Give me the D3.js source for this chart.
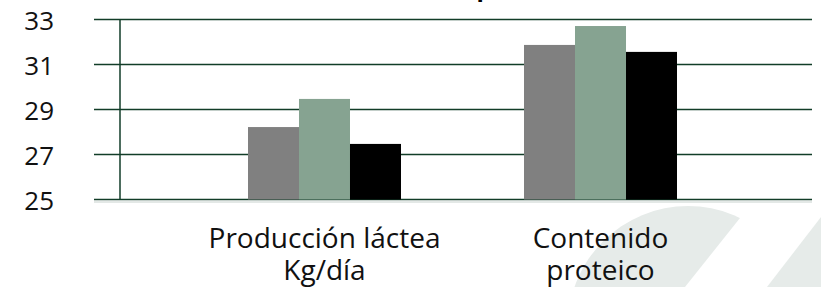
<!DOCTYPE html>
<html>
<head>
<meta charset="utf-8">
<script src="https://cdn.jsdelivr.net/npm/d3@7"></script>
<style>
    body { margin: 0; background: #fff; }
    svg { display: block; font-family: "Open Sans", sans-serif; }
</style>
</head>
<body>
<div id="chart"></div>
<script>
const categories = [["Producción láctea", "Kg/día"], ["Contenido", "proteico"]]
const series = ["A", "B", "C"]
const valuesA = [28.22, 31.87]
const valuesB = [29.47, 32.71]
const valuesC = [27.47, 31.56]
const yTicks = [25, 27, 29, 31, 33]

const width = 821
const height = 287
const colors = ["#808080", "#86a391", "#000000"]
const gridColor = "#123d28"

const data = categories.map((c, i) => ({
    key: c.join(" "),
    label: c,
    values: [valuesA[i], valuesB[i], valuesC[i]]
}))

const svg = d3.select("#chart")
    .append("svg")
    .attr("width", width)
    .attr("height", height)

// background decoration in the lower right corner
svg.append("clipPath")
    .attr("id", "leaf")
    .append("path")
    .attr("d", "M0,0 L795,0 L740,218 L685,287 L0,287 Z")
const deco = svg.append("g").attr("fill", "#e6ebe9")
deco.append("circle")
    .attr("cx", 688)
    .attr("cy", 326)
    .attr("r", 120)
    .attr("clip-path", "url(#leaf)")
deco.append("path")
    .attr("d", "M821,217 L767,287 L821,287 Z")

// title, cut off at the top edge of the picture
svg.append("text")
    .attr("x", 484)
    .attr("y", -4)
    .attr("text-anchor", "middle")
    .attr("font-size", 24)
    .attr("font-weight", "bold")
    .attr("fill", "#000")
    .text("p")

const x0 = d3.scaleBand()
    .domain(data.map(d => d.key))
    .range([186.5, 738.5])
    .paddingInner(0.4457)
    .paddingOuter(0.2228)

const x1 = d3.scaleBand()
    .domain(series)
    .range([0, x0.bandwidth()])

const y = d3.scaleLinear()
    .domain([25, 33])
    .range([199.5, 19.5])

// faint shadow under the base line
svg.append("line")
    .attr("x1", 94).attr("x2", 812)
    .attr("y1", y(25) + 2.5).attr("y2", y(25) + 2.5)
    .attr("stroke", "#e3e8e6")
    .attr("stroke-width", 2)

const yAxis = d3.axisLeft(y)
    .tickValues(yTicks)
    .tickSize(0)
    .tickPadding(0)

svg.append("g")
    .attr("class", "axis y-axis")
    .attr("transform", "translate(54,0)")
    .call(yAxis)
    .call(g => g.select(".domain").remove())
    .selectAll("text")
    .attr("font-size", 26)
    .attr("font-family", "'Open Sans', sans-serif")
    .attr("fill", "#111")
    .attr("dy", "0.4em")

svg.append("g")
    .selectAll("line")
    .data(yTicks)
    .join("line")
    .attr("x1", 94)
    .attr("x2", 812)
    .attr("y1", d => y(d))
    .attr("y2", d => y(d))
    .attr("stroke", gridColor)
    .attr("stroke-width", 1.5)

svg.append("line")
    .attr("x1", 120).attr("x2", 120)
    .attr("y1", y(33)).attr("y2", y(25))
    .attr("stroke", gridColor)
    .attr("stroke-width", 1.5)

const groups = svg.append("g")
    .selectAll("g")
    .data(data)
    .join("g")
    .attr("transform", d => `translate(${x0(d.key)},0)`)

groups.selectAll("rect")
    .data(d => d.values.map((v, i) => ({s: series[i], v, i})))
    .join("rect")
    .attr("x", d => x1(d.s))
    .attr("width", x1.bandwidth())
    .attr("y", d => y(d.v))
    .attr("height", d => y(25) - y(d.v))
    .attr("fill", d => colors[d.i])

const labels = svg.append("g")
    .selectAll("text")
    .data(data)
    .join("text")
    .attr("text-anchor", "middle")
    .attr("font-size", 28)
    .attr("fill", "#111")

labels.selectAll("tspan")
    .data(d => d.label.map(l => ({l, cx: x0(d.key) + x0.bandwidth() / 2})))
    .join("tspan")
    .attr("x", d => d.cx)
    .attr("y", (d, i) => 248 + i * 32)
    .text(d => d.l)
</script>
</body>
</html>
